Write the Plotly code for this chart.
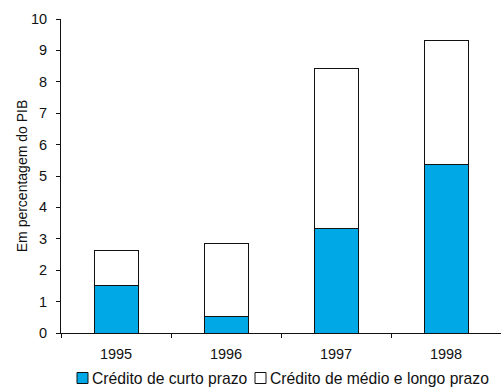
import plotly.graph_objects as go

# Credit to the private sector, as a share of GDP
years = ["1995", "1996", "1997", "1998"]
curto_prazo = [1.50, 0.54, 3.33, 5.38]
medio_longo_total = [2.64, 2.86, 8.42, 9.33]
medio_longo = [round(t - c, 2) for t, c in zip(medio_longo_total, curto_prazo)]

series_names = ["Crédito de curto prazo", "Crédito de médio e longo prazo"]
series_colors = ["#00A8E6", "#FFFFFF"]

y_ticks = list(range(0, 11))

font_family = "Liberation Sans, Arial, sans-serif"

W, H = 501, 390
M_L, M_R, M_T, M_B = 61, 0, 19, 57
plot_w = W - M_L - M_R
plot_h = H - M_T - M_B


def px_to_paper_x(px):
    return (px - M_L) / plot_w


def px_to_paper_y(py):
    return (H - M_B - py) / plot_h


fig = go.Figure()
for name, vals, color in zip(series_names, [curto_prazo, medio_longo], series_colors):
    fig.add_trace(go.Bar(
        x=years, y=vals, name=name,
        marker=dict(color=color, line=dict(color="#111111", width=1)),
        width=0.4, showlegend=False,
    ))

# Legend row below the axis: a small square followed by the series name
legend_y = 378
legend_items = [(77, 90), (255, 268)]
shapes = []
annotations = []
for (sq_x, tx_x), name, color in zip(legend_items, series_names, series_colors):
    shapes.append(dict(
        type="rect", xref="paper", yref="paper",
        x0=px_to_paper_x(sq_x), x1=px_to_paper_x(sq_x + 11),
        y0=px_to_paper_y(legend_y + 5.5), y1=px_to_paper_y(legend_y - 5.5),
        fillcolor=color, line=dict(color="#111111", width=1),
    ))
    annotations.append(dict(
        text=name, xref="paper", yref="paper",
        x=px_to_paper_x(tx_x), y=px_to_paper_y(legend_y),
        xanchor="left", yanchor="middle", showarrow=False,
        font=dict(size=15.7, color="#111111"),
    ))

fig.update_layout(
    width=W, height=H,
    barmode="stack",
    plot_bgcolor="white", paper_bgcolor="white",
    margin=dict(l=M_L, r=M_R, t=M_T, b=M_B),
    font=dict(family=font_family, size=15, color="#111111"),
    showlegend=False,
    shapes=shapes,
    annotations=annotations,
    xaxis=dict(
        type="category", range=[-0.5, 3.5],
        showline=True, linecolor="#111111", linewidth=1,
        ticks="outside", tickson="boundaries", ticklen=4, tickcolor="#111111",
        showgrid=False, tickfont=dict(size=14.5), ticklabelstandoff=8,
    ),
    yaxis=dict(
        range=[0, 10], tickvals=y_ticks,
        showline=True, linecolor="#111111", linewidth=1,
        ticks="outside", ticklen=4, tickcolor="#111111",
        showgrid=False, zeroline=False, tickfont=dict(size=14.5),
        ticklabelstandoff=6,
        title=dict(text="Em percentagem do PIB", font=dict(size=14), standoff=0),
    ),
)

fig.write_html("out.html")
